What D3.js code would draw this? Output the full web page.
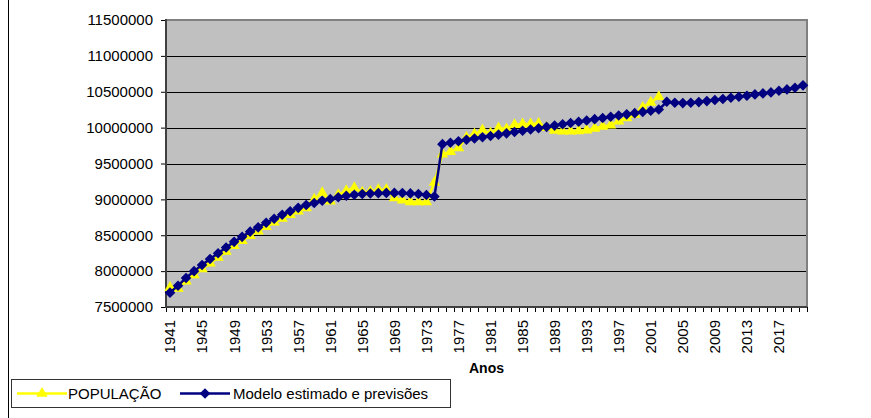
<!DOCTYPE html>
<html>
<head>
<meta charset="utf-8">
<script src="https://cdn.jsdelivr.net/npm/d3@7"></script>
<style>
  body { margin: 0; background: #fff; }
  svg { display: block; font-family: "Liberation Sans", Arial, sans-serif; }
</style>
</head>
<body>
<div id="chart"></div>
<script>
// categories
const firstYear = 1941
const lastYear = 2020
const years = d3.range(firstYear, lastYear + 1)
const labelEvery = 4

// series values
const populacao = [
  7770000, 7760000, 7860000, 7945000, 8030000, 8110000, 8190000, 8275000, 8355000, 8425000,
  8495000, 8555000, 8620000, 8680000, 8735000, 8785000, 8835000, 8880000, 9000000, 9090000,
  8975000, 9063000, 9120000, 9160000, 9098000, 9110000, 9135000, 9135000, 9020000, 8990000,
  8965000, 8965000, 8965000, 9235000, 9630000, 9665000, 9715000, 9863000, 9910000, 9965000,
  9919000, 9993000, 9980000, 10039000, 10049000, 10049000, 10058000, 10000000, 9960000, 9950000,
  9950000, 9955000, 9965000, 9990000, 10015000, 10035000, 10090000, 10136000, 10183000, 10280000,
  10351000, 10430000
]
const modelo = [
  7700000, 7797000, 7905000, 8000000, 8085000, 8170000, 8250000, 8330000, 8408000, 8478000,
  8550000, 8610000, 8675000, 8730000, 8785000, 8835000, 8882000, 8922000, 8950000, 8980000,
  9005000, 9030000, 9050000, 9065000, 9075000, 9082000, 9087000, 9090000, 9090000, 9088000,
  9083000, 9075000, 9062000, 9040000, 9770000, 9790000, 9810000, 9830000, 9848000, 9866000,
  9884000, 9902000, 9920000, 9938000, 9956000, 9974000, 9992000, 10010000, 10028000, 10046000,
  10064000, 10082000, 10100000, 10118000, 10135000, 10152000, 10168000, 10185000, 10202000, 10219000,
  10235000, 10252000, 10360000, 10346000, 10342000, 10346000, 10356000, 10370000, 10384000, 10398000,
  10416000, 10430000, 10444000, 10463000, 10477000, 10491000, 10514000, 10533000, 10556000, 10589000
]

// y ticks
const yMin = 7500000
const yMax = 11500000
const yStep = 500000

const seriesNames = ['POPULAÇÃO', 'Modelo estimado e previsões']
const xTitle = 'Anos'

const outerWidth = 871
const outerHeight = 418
const plot = { left: 166, top: 20, right: 807, bottom: 307 }
const width = plot.right - plot.left
const height = plot.bottom - plot.top
const fontSize = 15

const svg = d3.select('#chart')
  .append('svg')
  .attr('width', outerWidth)
  .attr('height', outerHeight)

// chart area border (left edge)
svg.append('line')
  .attr('x1', 8.5).attr('x2', 8.5)
  .attr('y1', 0).attr('y2', outerHeight)
  .attr('stroke', '#000')

const g = svg.append('g')
  .attr('transform', `translate(${plot.left},${plot.top})`)

// scales
const xs = d3.scaleBand()
  .domain(years)
  .range([0, width])
  .padding(0)
const ys = d3.scaleLinear()
  .domain([yMin, yMax])
  .range([height, 0])
const cx = (yr) => xs(yr) + xs.bandwidth() / 2

// plot background
g.append('rect')
  .attr('x', 0)
  .attr('y', 0)
  .attr('width', width)
  .attr('height', height)
  .attr('fill', '#c0c0c0')

// gridlines
const yTicks = d3.range(yMin, yMax + 1, yStep)
g.selectAll('.grid')
  .data(yTicks.filter((d) => d > yMin && d < yMax))
  .enter()
  .append('line')
  .attr('class', 'grid')
  .attr('x1', 0)
  .attr('x2', width)
  .attr('y1', (d) => Math.round(ys(d)) + 0.5)
  .attr('y2', (d) => Math.round(ys(d)) + 0.5)
  .attr('stroke', '#000')
  .attr('stroke-width', 1)

// plot border top and right
g.append('path')
  .attr('d', `M0,0H${width}V${height}`)
  .attr('fill', 'none')
  .attr('stroke', '#808080')
  .attr('stroke-width', 2)

// y axis
const yAxis = g.append('g')
  .call(d3.axisLeft(ys).tickValues(yTicks).tickSize(5).tickPadding(8).tickFormat(d3.format('d')))
yAxis.select('.domain').remove()
yAxis.selectAll('.tick line').attr('stroke', '#000')
yAxis.selectAll('text')
  .style('font-size', fontSize + 'px')
  .style('font-family', '"Liberation Sans", Arial, sans-serif')
  .attr('fill', '#000')

// x axis ticks at category boundaries
g.selectAll('.xtick')
  .data(years.concat([null]))
  .enter()
  .append('line')
  .attr('class', 'xtick')
  .attr('x1', (d, i) => Math.round(i * xs.bandwidth()) + 0.5)
  .attr('x2', (d, i) => Math.round(i * xs.bandwidth()) + 0.5)
  .attr('y1', height)
  .attr('y2', height + 5)
  .attr('stroke', '#000')

// x labels, rotated
g.selectAll('.xlabel')
  .data(years.filter((d, i) => i % labelEvery === 0))
  .enter()
  .append('text')
  .attr('class', 'xlabel')
  .attr('transform', (d) => `translate(${cx(d)},${height + 13}) rotate(-90)`)
  .attr('dy', '0.36em')
  .style('text-anchor', 'end')
  .style('font-size', fontSize + 'px')
  .text((d) => d)

// axis lines
g.append('line')
  .attr('x1', 0).attr('x2', width)
  .attr('y1', height).attr('y2', height)
  .attr('stroke', '#404040')
  .attr('stroke-width', 2)
g.append('line')
  .attr('x1', 0).attr('x2', 0)
  .attr('y1', -1).attr('y2', height + 1)
  .attr('stroke', '#404040')
  .attr('stroke-width', 2)

// series
const popData = populacao.map((v, i) => ({ year: years[i], v }))
const modData = modelo.map((v, i) => ({ year: years[i], v }))
const line = d3.line().x((d) => cx(d.year)).y((d) => ys(d.v))
const triangle = d3.symbol().type(d3.symbolTriangle).size(56)
const diamond = 'M0,-5.3L5.3,0L0,5.3L-5.3,0Z'

g.append('path')
  .datum(popData)
  .attr('d', line)
  .attr('fill', 'none')
  .attr('stroke', '#ffff00')
  .attr('stroke-width', 2.5)
g.selectAll('.tri')
  .data(popData)
  .enter()
  .append('path')
  .attr('class', 'tri')
  .attr('d', triangle)
  .attr('transform', (d) => `translate(${cx(d.year)},${ys(d.v)})`)
  .attr('fill', '#ffff00')

g.append('path')
  .datum(modData)
  .attr('d', line)
  .attr('fill', 'none')
  .attr('stroke', '#000080')
  .attr('stroke-width', 2.5)
g.selectAll('.dia')
  .data(modData)
  .enter()
  .append('path')
  .attr('class', 'dia')
  .attr('d', diamond)
  .attr('transform', (d) => `translate(${cx(d.year)},${ys(d.v)})`)
  .attr('fill', '#000080')

// x title
svg.append('text')
  .attr('x', plot.left + width / 2)
  .attr('y', 373)
  .style('text-anchor', 'middle')
  .style('font-size', '14px')
  .style('font-weight', 'bold')
  .text(xTitle)

// legend
const lg = svg.append('g')
lg.append('rect')
  .attr('x', 11.5)
  .attr('y', 379.5)
  .attr('width', 439)
  .attr('height', 28)
  .attr('fill', '#fff')
  .attr('stroke', '#333')
const ly = 393.5
lg.append('line')
  .attr('x1', 17).attr('x2', 67).attr('y1', ly).attr('y2', ly)
  .attr('stroke', '#ffff00').attr('stroke-width', 2.5)
lg.append('path')
  .attr('d', triangle)
  .attr('transform', `translate(42,${ly})`)
  .attr('fill', '#ffff00')
lg.append('text')
  .attr('x', 68).attr('y', ly).attr('dy', '0.36em')
  .style('font-size', fontSize + 'px')
  .text(seriesNames[0])
lg.append('line')
  .attr('x1', 180).attr('x2', 230).attr('y1', ly).attr('y2', ly)
  .attr('stroke', '#000080').attr('stroke-width', 2.5)
lg.append('path')
  .attr('d', diamond)
  .attr('transform', `translate(205,${ly})`)
  .attr('fill', '#000080')
lg.append('text')
  .attr('x', 233).attr('y', ly).attr('dy', '0.36em')
  .style('font-size', fontSize + 'px')
  .text(seriesNames[1])
</script>
</body>
</html>
